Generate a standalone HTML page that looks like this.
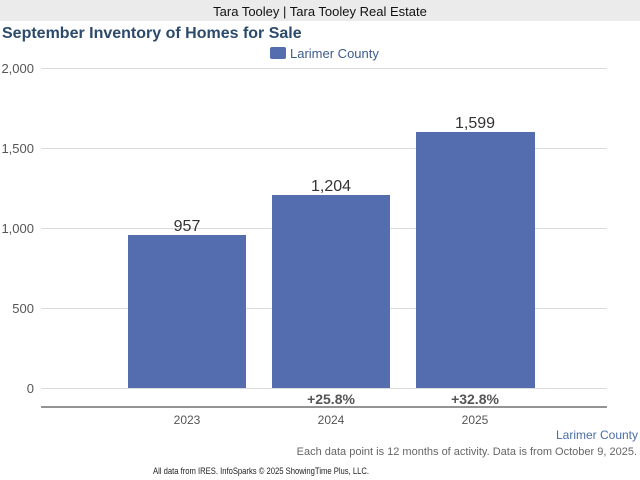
<!DOCTYPE html>
<html><head><style>
body{margin:0;width:640px;height:480px;background:#fff;font-family:"Liberation Sans",sans-serif;position:relative;overflow:hidden}
.t{position:absolute;white-space:nowrap}
</style></head><body>
<div style="position:absolute;left:0;top:0;width:640px;height:21px;background:#ebebeb"></div>
<div class="t" style="left:0;width:640px;text-align:center;top:4px;font-size:13px;color:#111">Tara Tooley | Tara Tooley Real Estate</div>
<div class="t" style="left:2px;top:25px;font-size:16px;font-weight:bold;color:#2c4a6b">September Inventory of Homes for Sale</div>
<div style="position:absolute;left:270px;top:47px;width:16px;height:12px;background:#536dae;border-radius:2px"></div>
<div class="t" style="left:290px;top:46px;font-size:13px;color:#3d5c8c">Larimer County</div>
<svg width="640" height="480" style="position:absolute;left:0;top:0" font-family="Liberation Sans, sans-serif">
<g stroke="#dcdcdc" stroke-width="1">
<line x1="41" x2="607" y1="68.5" y2="68.5"/><line x1="41" x2="607" y1="148.5" y2="148.5"/>
<line x1="41" x2="607" y1="228.5" y2="228.5"/><line x1="41" x2="607" y1="308.5" y2="308.5"/>
<line x1="41" x2="607" y1="388.5" y2="388.5"/></g>
<g font-size="13" fill="#555" text-anchor="end">
<text x="34" y="73">2,000</text><text x="34" y="153">1,500</text><text x="34" y="233">1,000</text>
<text x="34" y="313">500</text><text x="34" y="393">0</text></g>
<g fill="#536dae">
<rect x="128" y="235" width="118" height="153"/>
<rect x="272" y="195" width="118" height="193"/>
<rect x="416" y="132" width="119" height="256"/></g>
<g font-size="16" fill="#333" text-anchor="middle">
<text x="187" y="231">957</text><text x="331" y="191">1,204</text><text x="475" y="128">1,599</text></g>
<line x1="41" x2="607" y1="407" y2="407" stroke="#555" stroke-width="1.2"/>
<g font-size="14" font-weight="bold" fill="#555" text-anchor="middle">
<text x="331" y="404">+25.8%</text><text x="475" y="404">+32.8%</text></g>
<g font-size="12" fill="#555" text-anchor="middle">
<text x="187" y="424">2023</text><text x="331" y="424">2024</text><text x="475" y="424">2025</text></g>
<text x="638" y="439" font-size="12" fill="#4a6ea3" text-anchor="end">Larimer County</text>
<text x="637" y="455" font-size="11" fill="#666" text-anchor="end">Each data point is 12 months of activity. Data is from October 9, 2025.</text>
<text x="153" y="474" font-size="9.5" fill="#222" textLength="216" lengthAdjust="spacingAndGlyphs">All data from IRES. InfoSparks © 2025 ShowingTime Plus, LLC.</text>
</svg>
</body></html>
